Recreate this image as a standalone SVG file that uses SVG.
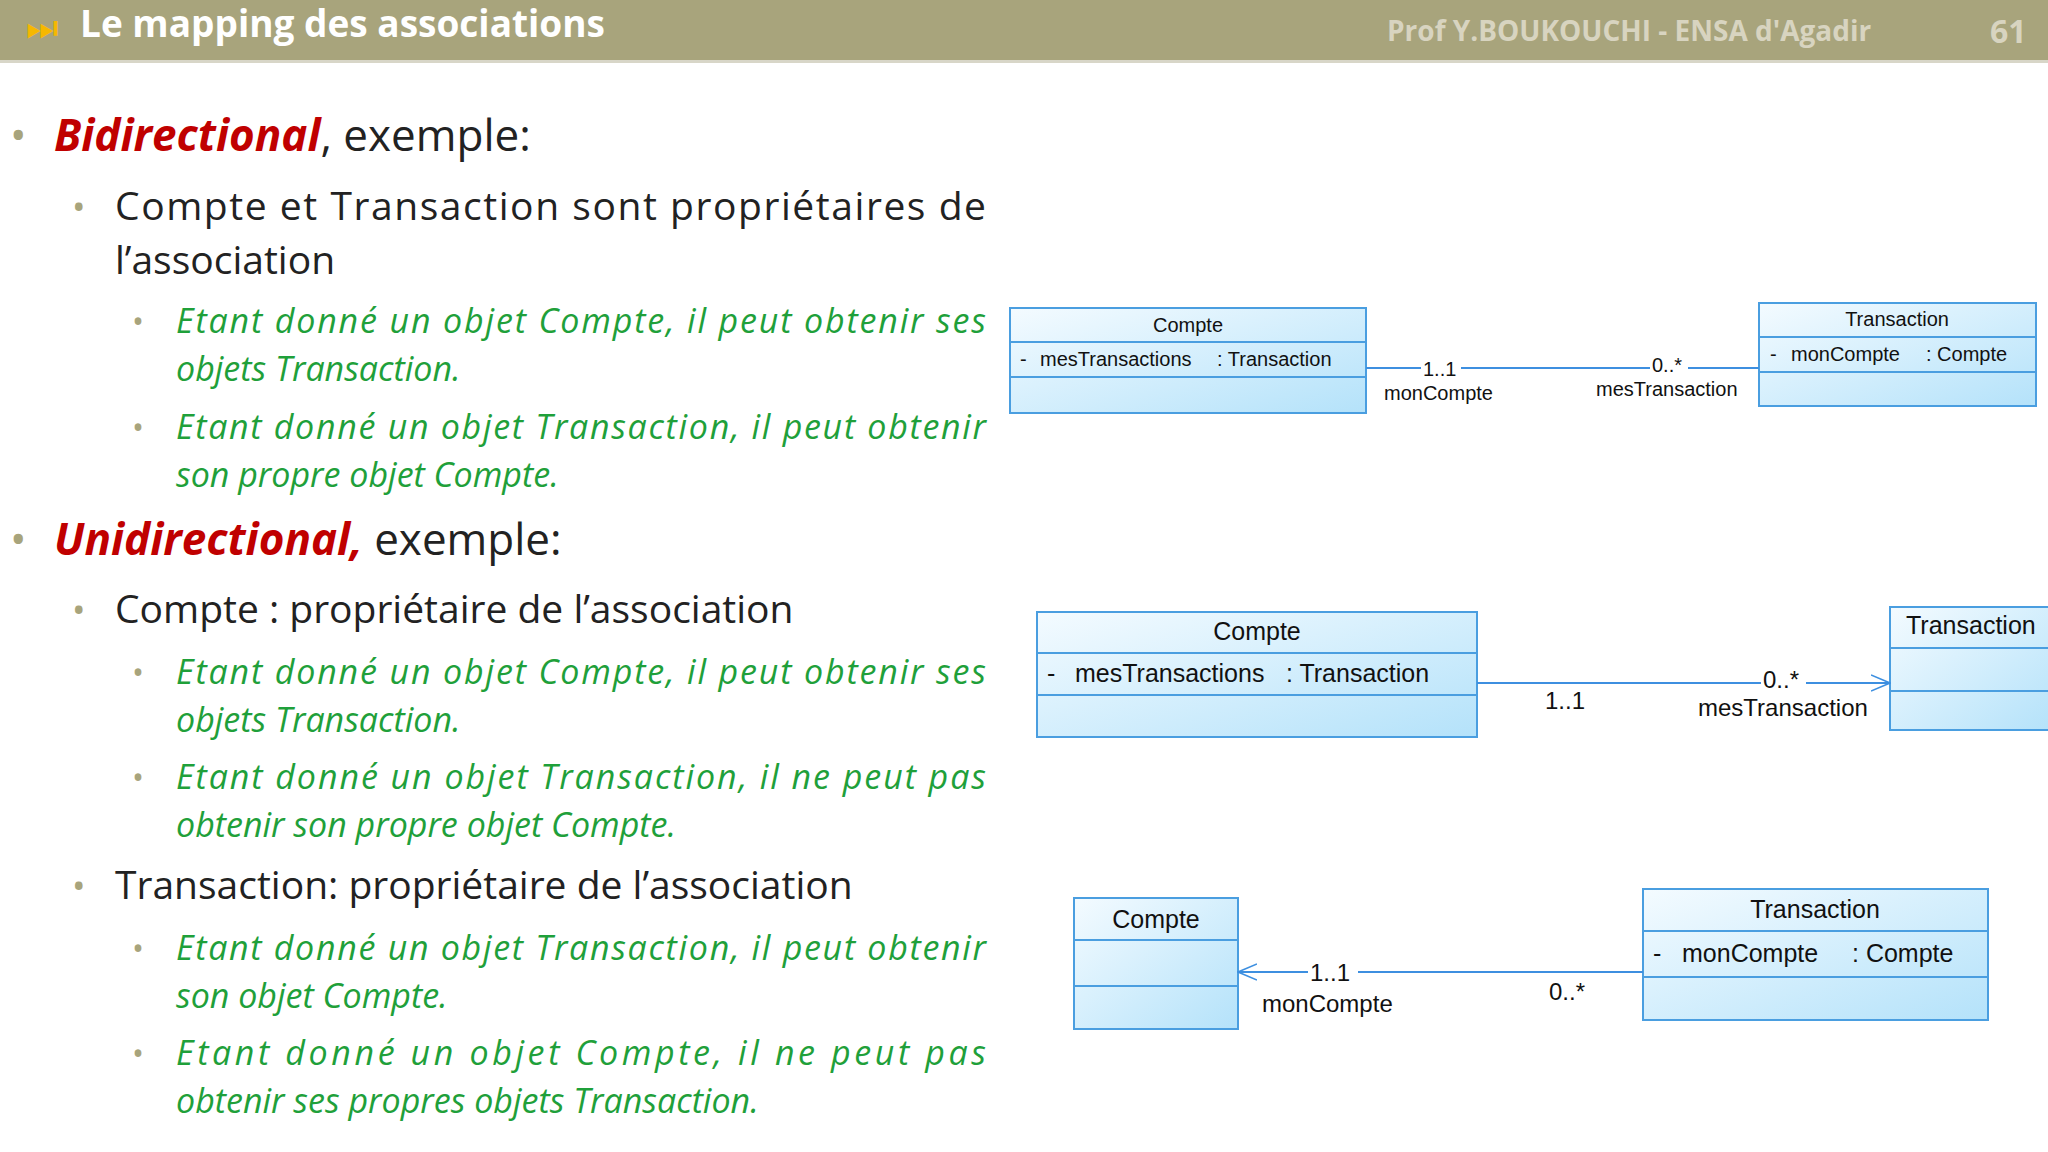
<svg xmlns="http://www.w3.org/2000/svg" width="2048" height="1152" viewBox="0 0 2048 1152">
<defs>
<linearGradient id="g" x1="0" y1="0" x2="1" y2="1"><stop offset="0" stop-color="#f4fbff"/><stop offset="1" stop-color="#b4e2fa"/></linearGradient>
<marker id="open" viewBox="0 0 20 20" refX="19" refY="10" markerWidth="20" markerHeight="20" markerUnits="userSpaceOnUse" orient="auto"><path d="M0,2 L19,10 L0,18" fill="none" stroke="#3d8fe0" stroke-width="1.6"/></marker>
<style>
.box{fill:url(#g);stroke:#4a9ee0;stroke-width:2}
.div{stroke:#4a9ee0;stroke-width:2}
.t{font-family:"Liberation Sans",Arial,sans-serif;fill:#111}
.c{stroke:#3d8fe0;stroke-width:1.8;fill:none}
.b{font-family:"Open Sans","Noto Sans",sans-serif;fill:#222}
.g{font-family:"Open Sans","Noto Sans",sans-serif;font-style:italic;fill:#1fa03a;font-size:34px}
.bul{fill:#a8a47c;font-family:"Open Sans",sans-serif}
.red{fill:#c00000;font-weight:bold;font-style:italic}
</style>
</defs>
<rect width="2048" height="1152" fill="#fff"/>
<rect width="2048" height="60" fill="#a8a47c"/>
<rect y="60" width="2048" height="3" fill="#d8d6c8"/>
<text x="26" y="40" font-family="DejaVu Sans,sans-serif" font-size="36" fill="#f5b800">⏭</text>
<text x="80" y="37" class="b" font-size="37" font-weight="bold" style="fill:#fff">Le mapping des associations</text>
<text x="1387" y="41" class="b" font-size="28" font-weight="bold" style="fill:#d8d4c0">Prof Y.BOUKOUCHI - ENSA d'Agadir</text>
<text x="1990" y="43" class="b" font-size="32" font-weight="bold" style="fill:#d8d4c0">61</text>

<g id="text">
<text x="10" y="151" class="bul" font-size="44">•</text>
<text x="54" y="151" class="b" font-size="44"><tspan class="red">Bidirectional</tspan>, exemple:</text>
<text x="72" y="220" class="bul" font-size="36">•</text>
<text x="115" y="220" class="b" font-size="39" textLength="871" lengthAdjust="spacing">Compte et Transaction sont propriétaires de</text>
<text x="115" y="274" class="b" font-size="39">l’association</text>
<text x="132" y="333" class="bul" font-size="32">•</text>
<text x="176" y="333" class="g" textLength="810" lengthAdjust="spacing">Etant donné un objet Compte, il peut obtenir ses</text>
<text x="176" y="381" class="g">objets Transaction.</text>
<text x="132" y="439" class="bul" font-size="32">•</text>
<text x="176" y="439" class="g" textLength="810" lengthAdjust="spacing">Etant donné un objet Transaction, il peut obtenir</text>
<text x="176" y="487" class="g">son propre objet Compte.</text>
<text x="10" y="555" class="bul" font-size="44">•</text>
<text x="54" y="555" class="b" font-size="44"><tspan class="red">Unidirectional,</tspan> exemple:</text>
<text x="72" y="623" class="bul" font-size="36">•</text>
<text x="115" y="623" class="b" font-size="39">Compte : propriétaire de l’association</text>
<text x="132" y="684" class="bul" font-size="32">•</text>
<text x="176" y="684" class="g" textLength="810" lengthAdjust="spacing">Etant donné un objet Compte, il peut obtenir ses</text>
<text x="176" y="732" class="g">objets Transaction.</text>
<text x="132" y="789" class="bul" font-size="32">•</text>
<text x="176" y="789" class="g" textLength="810" lengthAdjust="spacing">Etant donné un objet Transaction, il ne peut pas</text>
<text x="176" y="837" class="g">obtenir son propre objet Compte.</text>
<text x="72" y="899" class="bul" font-size="36">•</text>
<text x="115" y="899" class="b" font-size="39">Transaction: propriétaire de l’association</text>
<text x="132" y="960" class="bul" font-size="32">•</text>
<text x="176" y="960" class="g" textLength="810" lengthAdjust="spacing">Etant donné un objet Transaction, il peut obtenir</text>
<text x="176" y="1008" class="g">son objet Compte.</text>
<text x="132" y="1065" class="bul" font-size="32">•</text>
<text x="176" y="1065" class="g" textLength="810" lengthAdjust="spacing">Etant donné un objet Compte, il ne peut pas</text>
<text x="176" y="1113" class="g">obtenir ses propres objets Transaction.</text>
</g>

<g id="compte1">
<rect class="box" x="1010" y="308" width="356" height="105"/>
<line class="div" x1="1010" y1="342" x2="1366" y2="342"/><line class="div" x1="1010" y1="377" x2="1366" y2="377"/>
<text class="t" x="1188" y="332" font-size="20" text-anchor="middle">Compte</text>
<text class="t" y="366" font-size="20"><tspan x="1020">-</tspan><tspan x="1040">mesTransactions</tspan><tspan x="1217">: Transaction</tspan></text>
</g>
<g id="transaction1">
<rect class="box" x="1759" y="303" width="277" height="103"/>
<line class="div" x1="1759" y1="337" x2="2036" y2="337"/><line class="div" x1="1759" y1="372" x2="2036" y2="372"/>
<text class="t" x="1897" y="326" font-size="20" text-anchor="middle">Transaction</text>
<text class="t" y="361" font-size="20"><tspan x="1770">-</tspan><tspan x="1791">monCompte</tspan><tspan x="1926">: Compte</tspan></text>
</g>
<g id="compte2">
<rect class="box" x="1037" y="612" width="440" height="125"/>
<line class="div" x1="1037" y1="653" x2="1477" y2="653"/><line class="div" x1="1037" y1="695" x2="1477" y2="695"/>
<text class="t" x="1257" y="640" font-size="25" text-anchor="middle">Compte</text>
<text class="t" y="682" font-size="25"><tspan x="1047">-</tspan><tspan x="1075">mesTransactions</tspan><tspan x="1286">: Transaction</tspan></text>
</g>
<g id="transaction2">
<rect class="box" x="1890" y="607" width="162" height="123"/>
<line class="div" x1="1890" y1="648" x2="2052" y2="648"/><line class="div" x1="1890" y1="691" x2="2052" y2="691"/>
<text class="t" x="1906" y="634" font-size="25">Transaction</text>
</g>
<g id="compte3">
<rect class="box" x="1074" y="898" width="164" height="131"/>
<line class="div" x1="1074" y1="940" x2="1238" y2="940"/><line class="div" x1="1074" y1="986" x2="1238" y2="986"/>
<text class="t" x="1156" y="928" font-size="25" text-anchor="middle">Compte</text>
</g>
<g id="transaction3">
<rect class="box" x="1643" y="889" width="345" height="131"/>
<line class="div" x1="1643" y1="931" x2="1988" y2="931"/><line class="div" x1="1643" y1="977" x2="1988" y2="977"/>
<text class="t" x="1815" y="918" font-size="25" text-anchor="middle">Transaction</text>
<text class="t" y="962" font-size="25"><tspan x="1653">-</tspan><tspan x="1682">monCompte</tspan><tspan x="1852">: Compte</tspan></text>
</g>

<g id="connectors">
<line class="c" x1="1366" y1="368" x2="1759" y2="368"/>
<line class="c" x1="1477" y1="683" x2="1890" y2="683" marker-end="url(#open)"/>
<line class="c" x1="1643" y1="972" x2="1238" y2="972" marker-end="url(#open)"/>
<g class="t" font-size="20">
<rect x="1421" y="358" width="40" height="20" fill="#fff"/><text x="1423" y="376">1..1</text>
<text x="1384" y="400">monCompte</text>
<rect x="1650" y="356" width="38" height="20" fill="#fff"/><text x="1652" y="372">0..*</text>
<text x="1596" y="396">mesTransaction</text>
</g>
<g class="t" font-size="24">
<text x="1545" y="709">1..1</text>
<rect x="1761" y="670" width="45" height="24" fill="#fff"/><text x="1763" y="688">0..*</text>
<text x="1698" y="716">mesTransaction</text>
<rect x="1308" y="960" width="50" height="24" fill="#fff"/><text x="1310" y="981">1..1</text>
<text x="1262" y="1012">monCompte</text>
<text x="1549" y="1000">0..*</text>
</g>
</g>
</svg>
